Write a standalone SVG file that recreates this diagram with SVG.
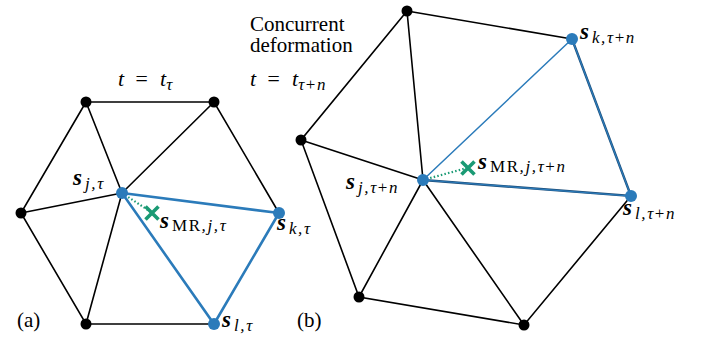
<svg xmlns="http://www.w3.org/2000/svg" width="712" height="337" viewBox="0 0 712 337">
<style>
.e{stroke:#000;stroke-width:1.6;fill:none;stroke-linecap:round}
.b{stroke:#2b7bba;stroke-width:2.6;fill:none;stroke-linecap:round}
.bt{stroke:#2b7bba;stroke-width:1.5;fill:none;stroke-linecap:round}
.bd{stroke:#1f4f7a;stroke-width:2.4;fill:none;stroke-linecap:round}
.dot{stroke:#1a9a74;stroke-width:2.2;stroke-dasharray:1.5 2.2;fill:none}
.x{stroke:#1a9a74;stroke-width:3.6;stroke-linecap:butt}
.nk{fill:#000}
.nb{fill:#2b7bba}
text{font-family:"Liberation Serif","DejaVu Serif","Times New Roman",serif;fill:#000}
.rm{font-size:21px}
.s{font-size:23px;font-style:italic;font-weight:bold}
.sub{font-size:17px;font-style:italic;font-weight:normal;letter-spacing:1.6px}
.up{font-style:normal}
.mt{font-size:22px;font-style:italic}
</style>
<g id="connectors">
  <path class="e" d="M86,102 L214,102 L279,213 M214,324 L86,324 L21,213 L86,102"/>
  <path class="e" d="M122,193 L86,102 M122,193 L214,102 M122,193 L21,213 M122,193 L86,324"/>
  <path class="b" d="M122,193 L279,213 L214,324 Z"/>
  <path class="dot" d="M122,193 L151,212"/>
  <path class="e" d="M407,11 L572,39 M631,196 L524,325 L359,297 L301,140 L407,11"/>
  <path class="e" d="M423,180 L407,11 M423,180 L301,140 M423,180 L359,297 M423,180 L524,325"/>
  <path class="bt" d="M423,180 L572,39"/>
  <path class="bd" d="M572,39 L631,196 L423,180"/>
  <path class="bt" style="stroke-width:1.2" d="M572,39 L631,196 L423,180"/>
  <path class="dot" d="M423,180 L467,168"/>
</g>
<g id="a-nodes">
  <g id="a-n1"><circle class="nk" cx="86" cy="102" r="5.5"/></g>
  <g id="a-n2"><circle class="nk" cx="214" cy="102" r="5.5"/></g>
  <g id="a-n3"><circle class="nk" cx="21" cy="213" r="5.5"/></g>
  <g id="a-n4"><circle class="nk" cx="86" cy="324" r="5.5"/></g>
  <g id="a-j"><circle class="nb" cx="122" cy="193" r="6"/>
    <text class="s" x="73" y="185">s<tspan class="sub" dx="3" dy="4">j,τ</tspan></text></g>
  <g id="a-k"><circle class="nb" cx="279" cy="213" r="6"/>
    <text class="s" x="277" y="230">s<tspan class="sub" dx="3" dy="4">k,τ</tspan></text></g>
  <g id="a-l"><circle class="nb" cx="214" cy="324" r="6"/>
    <text class="s" x="222" y="327">s<tspan class="sub" dx="3" dy="4">l,τ</tspan></text></g>
  <g id="a-mr"><path class="x" d="M145.5,206.5 L158.5,219.5 M158.5,206.5 L145.5,219.5"/>
    <text class="s" x="160" y="228">s<tspan class="sub up" dx="3" dy="3">MR</tspan><tspan class="sub">,j,τ</tspan></text></g>
  <text class="mt" x="118" y="86">t</text>
  <text class="mt up" x="134" y="86">=</text>
  <text class="mt" x="160" y="86">t<tspan class="sub" dy="4">τ</tspan></text>
  <text class="rm" x="17" y="327">(a)</text>
</g>
<g id="b-nodes">
  <g id="b-n1"><circle class="nk" cx="407" cy="11" r="5.5"/></g>
  <g id="b-n2"><circle class="nk" cx="301" cy="140" r="5.5"/></g>
  <g id="b-n3"><circle class="nk" cx="359" cy="297" r="5.5"/></g>
  <g id="b-n4"><circle class="nk" cx="524" cy="325" r="5.5"/></g>
  <g id="b-j"><circle class="nb" cx="423" cy="180" r="6"/>
    <text class="s" x="346" y="188.5">s<tspan class="sub" dx="3" dy="4">j,τ<tspan class="up">+</tspan>n</tspan></text></g>
  <g id="b-k"><circle class="nb" cx="572" cy="39" r="6"/>
    <text class="s" x="580" y="38.5">s<tspan class="sub" dx="3" dy="4">k,τ<tspan class="up">+</tspan>n</tspan></text></g>
  <g id="b-l"><circle class="nb" cx="631" cy="196" r="6"/>
    <text class="s" x="623" y="215">s<tspan class="sub" dx="3" dy="4">l,τ<tspan class="up">+</tspan>n</tspan></text></g>
  <g id="b-mr"><path class="x" d="M461.5,161.5 L474.5,174.5 M474.5,161.5 L461.5,174.5"/>
    <text class="s" x="478" y="168.5">s<tspan class="sub up" dx="3" dy="3">MR</tspan><tspan class="sub">,j,τ<tspan class="up">+</tspan>n</tspan></text></g>
  <text class="mt" x="250" y="86">t</text>
  <text class="mt up" x="266" y="86">=</text>
  <text class="mt" x="292" y="86">t<tspan class="sub" dy="4">τ<tspan class="up">+</tspan>n</tspan></text>
  <text class="rm" x="250" y="31">Concurrent</text>
  <text class="rm" x="250" y="52">deformation</text>
  <text class="rm" x="297" y="327">(b)</text>
</g>
</svg>
